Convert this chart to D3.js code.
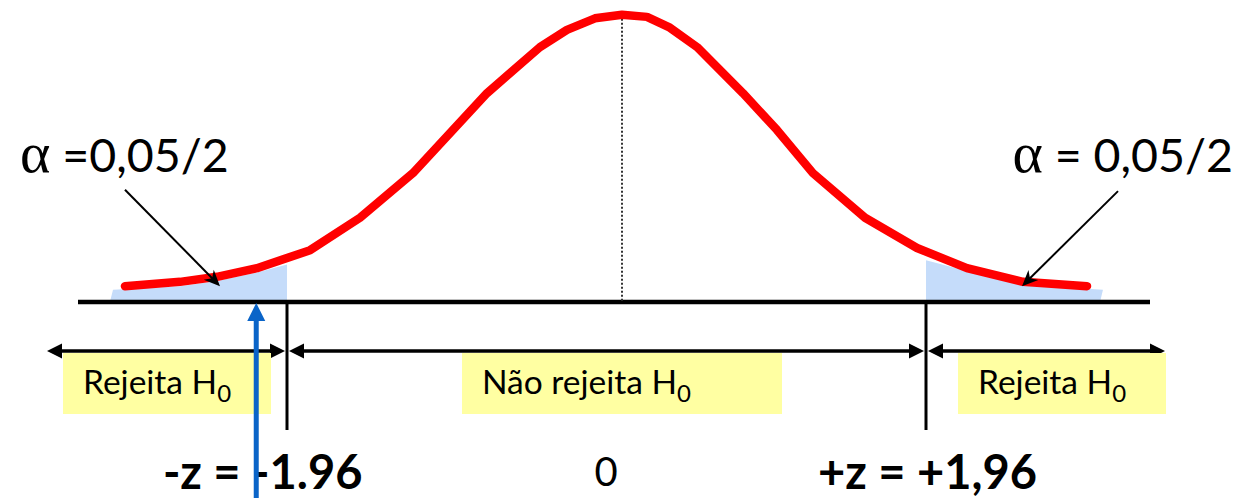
<!DOCTYPE html>
<html>
<head>
<meta charset="utf-8">
<script src="https://cdn.jsdelivr.net/npm/d3@7"></script>
<style>
  html, body { margin: 0; padding: 0; background: #fff; }
  svg { display: block; font-family: Lato, "Open Sans", sans-serif; }
</style>
</head>
<body>
<svg id="chart" width="1242" height="498"></svg>
<script>
// Standard normal density, drawn as a polyline through these (z, density) vertices
const curveZ       = [-2.908, -2.586, -2.370, -2.136, -1.825, -1.533, -1.223, -0.790, -0.480, -0.322, -0.158, 0,
                       0.161,  0.309,  0.484,  0.780,  0.999,  1.231,  1.567,  1.902,  2.224,  2.585,  2.998];
const curveDensity = [ 0.022,  0.028,  0.035,  0.047,  0.072,  0.117,  0.179,  0.290,  0.354,  0.378,  0.394, 0.399,
                       0.396,  0.381,  0.354,  0.290,  0.239,  0.179,  0.117,  0.075,  0.047,  0.028,  0.022];

// Shaded rejection tails (alpha/2 on each side)
const leftTailZ        = [-2.996, -2.978, -2.586, -2.370, -2.136, -1.960, -1.960];
const leftTailDensity  = [ 0,      0.017,  0.022,  0.029,  0.041,  0.052,  0];
const rightTailZ       = [ 1.960,  1.960,  2.224,  2.585,  3.101,  3.082];
const rightTailDensity = [ 0,      0.058,  0.043,  0.024,  0.017,  0];

// Critical values of the two-tailed test and the observed statistic
const criticalValues = [-1.96, 1.96];
const observedZ = -2.14;

// Text
const regionLabels   = ["Rejeita H", "Não rejeita H", "Rejeita H"];
const alphaLabels    = ["=0,05/2", "= 0,05/2"];
const criticalLabels = ["-z = -1.96", "+z = +1,96"];
const centerLabel    = "0";

// ---------------------------------------------------------------------------
const svg = d3.select("#chart");

const baseY = 302;
const x = d3.scaleLinear().domain([criticalValues[0], 0, criticalValues[1]]).range([287, 622, 926]);
const y = d3.scaleLinear().domain([0, 0.4]).range([baseY, 14]);

const curve = d3.zip(curveZ, curveDensity);
const leftTail = d3.zip(leftTailZ, leftTailDensity);
const rightTail = d3.zip(rightTailZ, rightTailDensity);

const line = d3.line().x(d => x(d[0])).y(d => y(d[1]));

// tails
svg.selectAll("path.tail").data([leftTail, rightTail]).join("path")
  .attr("class", "tail")
  .attr("d", d => line(d) + "Z")
  .attr("fill", "#c5dcfa");

// horizontal axis
svg.append("line").attr("x1", 78).attr("x2", 1150).attr("y1", baseY).attr("y2", baseY)
  .attr("stroke", "#000").attr("stroke-width", 4.5);

// mean line
svg.append("line").attr("x1", x(0)).attr("x2", x(0)).attr("y1", y(0.399)).attr("y2", baseY)
  .attr("stroke", "#333").attr("stroke-width", 2).attr("stroke-dasharray", "2,2");

// density curve
svg.append("path").attr("d", line(curve))
  .attr("fill", "none").attr("stroke", "#ff0000").attr("stroke-width", 8.5)
  .attr("stroke-linecap", "round").attr("stroke-linejoin", "round");

// critical value markers
svg.selectAll("line.crit").data(criticalValues).join("line")
  .attr("class", "crit")
  .attr("x1", d => x(d)).attr("x2", d => x(d))
  .attr("y1", baseY).attr("y2", 430)
  .attr("stroke", "#000").attr("stroke-width", 3);

// arrowhead helper: filled triangle (optionally notched) with tip at (tx, ty)
function head(tx, ty, angle, len, half, notch) {
  const c = Math.cos(angle), s = Math.sin(angle);
  const bx = tx - c * len, by = ty - s * len;
  const p1 = [bx - s * half, by + c * half];
  const p2 = [bx + s * half, by - c * half];
  const n = [tx - c * len * (1 - notch), ty - s * len * (1 - notch)];
  return `M${tx},${ty}L${p1[0]},${p1[1]}L${n[0]},${n[1]}L${p2[0]},${p2[1]}Z`;
}

// region arrows
const rowY = 351;
const spans = [[47, x(criticalValues[0]) - 2], [x(criticalValues[0]) + 2, x(criticalValues[1]) - 2], [x(criticalValues[1]) + 2, 1165]];
const rows = svg.append("g");
spans.forEach(([a, b]) => {
  rows.append("line").attr("x1", a + 6).attr("x2", b - 6).attr("y1", rowY).attr("y2", rowY)
    .attr("stroke", "#000").attr("stroke-width", 3.5);
  rows.append("path").attr("d", head(a, rowY, Math.PI, 15, 7.5, 0)).attr("fill", "#000");
  rows.append("path").attr("d", head(b, rowY, 0, 15, 7.5, 0)).attr("fill", "#000");
});

// region labels on yellow boxes
const boxes = [
  { x0: 63,  x1: 271, tx: 83 },
  { x0: 462, x1: 782, tx: 482 },
  { x0: 958, x1: 1166, tx: 978 }
];
boxes.forEach((b, i) => {
  svg.append("rect").attr("x", b.x0).attr("y", 353).attr("width", b.x1 - b.x0).attr("height", 61)
    .attr("fill", "#ffffa2");
  const t = svg.append("text").attr("x", b.tx).attr("y", 394)
    .attr("font-size", 33.5).attr("fill", "#000");
  t.append("tspan").text(regionLabels[i]);
  t.append("tspan").attr("dy", 8).attr("font-size", 24).text("0");
});

// alpha annotations
function alphaText(xPos, anchor, label) {
  const t = svg.append("text").attr("x", xPos).attr("y", 172).attr("text-anchor", anchor).attr("fill", "#000");
  t.append("tspan").attr("font-family", "'Liberation Serif', 'DejaVu Serif', serif").attr("font-size", 58).text("\u03b1");
  t.append("tspan").attr("font-size", 46.5).text(" " + label);
}
alphaText(20, "start", alphaLabels[0]);
alphaText(1233, "end", alphaLabels[1]);

// alpha pointer arrows
const pointers = [
  { from: [-2.908, 0.156], to: [-2.352, 0.022] },
  { from: [3.198, 0.154],  to: [2.579, 0.022] }
];
pointers.forEach(p => {
  const x1 = x(p.from[0]), y1 = y(p.from[1]), x2 = x(p.to[0]), y2 = y(p.to[1]);
  const ang = Math.atan2(y2 - y1, x2 - x1);
  svg.append("line").attr("x1", x1).attr("y1", y1)
    .attr("x2", x2 - Math.cos(ang) * 8).attr("y2", y2 - Math.sin(ang) * 8)
    .attr("stroke", "#000").attr("stroke-width", 2);
  svg.append("path").attr("d", head(x2, y2, ang, 16, 7, 0.3)).attr("fill", "#000");
});

// critical value labels and centre
svg.append("text").attr("x", 163).attr("y", 489).attr("font-size", 47).attr("font-weight", 700)
  .attr("fill", "#000").text(criticalLabels[0]);
svg.append("text").attr("x", 818).attr("y", 489).attr("font-size", 47).attr("font-weight", 700)
  .attr("fill", "#000").text(criticalLabels[1]);
svg.append("text").attr("x", x(0) - 16).attr("y", 486).attr("font-size", 40).attr("text-anchor", "middle")
  .attr("fill", "#000").text(centerLabel);

// observed statistic pointer
const ox = x(observedZ);
svg.append("line").attr("x1", ox).attr("x2", ox).attr("y1", 498).attr("y2", 318)
  .attr("stroke", "#0a64c8").attr("stroke-width", 5);
svg.append("path").attr("d", head(ox, 303, -Math.PI / 2, 18, 9, 0)).attr("fill", "#0a64c8");
</script>
</body>
</html>
